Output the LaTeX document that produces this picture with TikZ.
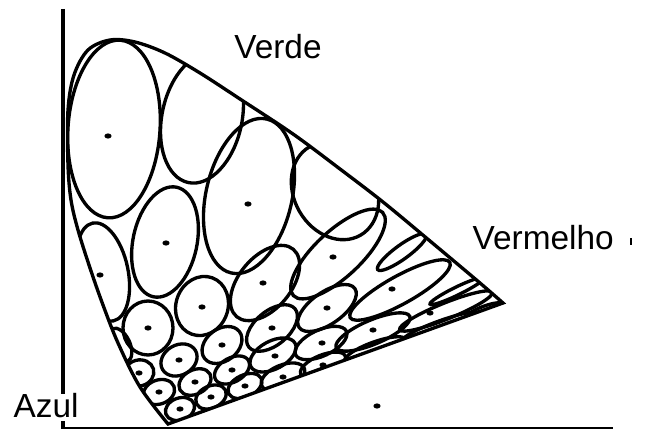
\documentclass[tikz,border=0pt]{standalone}
\usepackage{fontspec}
\setmainfont{Liberation Sans}

\def\gamut{plot[smooth, tension=0.55] coordinates {
    (503,303) (480,283) (430,241) (383,202) (340,169) (293,134) (240,99) (200,73)
    (165,53) (135,42) (110,40) (88,50) (74,75) (68,110) (68,165) (71,200) (78,230)
    (90,268) (103,305) (118,343) (140,387) (168,424)} -- cycle}

\begin{document}
\begin{tikzpicture}[x=0.02cm, y=-0.02cm, line width=1.9pt,
    label/.style={font=\fontsize{19}{21}\selectfont, inner sep=0pt}]
    \useasboundingbox (0,0) rectangle (653,429);

    % Axes
    \draw[line width=2.6pt] (63,9) -- (63,394);
    \draw[line width=2.6pt] (63,421) -- (63,429);
    \draw[line width=1.4pt] (63,428) -- (613,428);

    % Ellipses (clipped by the gamut)
    \begin{scope}
        \clip \gamut;
        \foreach \cx/\cy/\ra/\rb/\ang in {
            114/129/46/89/-4, 202/118/40/66/-12,
            103/272/25/50/12, 165/242/32/56/-12, 249/196/43/79/-13, 335/191/41/51/30,
            148/328/25/27/0, 202/306/26/30/-20, 265/283/44/26/50, 338/254/61/23/43, 402/252/30/7/36,
            120/345/10/18/25,
            139/373/15/13/15, 179/360/19/15/30, 222/345/22/16/38, 272/328/30/17/40, 327/308/34/16/35, 400/290/57/14/29, 457/291/30/4/26,
            159/392/16/12/20, 195/382/17/12/28, 232/370/19/12/30, 273/355/25/14/28, 321/343/28/13/25, 373/332/40/12/23, 446/311/50/8/22,
            180/409/15/11/20, 211/397/16/11/25, 245/386/18/11/25, 283/377/23/12/22, 323/365/24/10/22, 375/350/32/8/20, 440/327/40/6/20, 485/310/18/4/20}
            \draw[rotate around={\ang:(\cx,\cy)}] (\cx,\cy) ellipse [x radius=\ra, y radius=\rb];
    \end{scope}
    \draw \gamut;

    % Centre dots
    \foreach \x/\y in {108/136, 248/204, 166/243, 100/275, 263/283, 202/307, 148/328, 333/257,
        327/308, 272/328, 222/345, 179/360, 139/373, 392/289, 322/343, 275/356, 232/370, 195/382,
        159/392, 430/313, 373/330, 323/365, 283/377, 245/386, 211/397, 180/409, 377/406}
        \fill (\x,\y) ellipse [x radius=3.6, y radius=2.6];

    % Labels
    \node[label] (verde) at (278,47) {Verde};
    \node[label, anchor=base west] (vermelho) at (471,250) {Vermelho};
    \node[label, anchor=base west] (azul) at (12,417) {Azul};
    \draw[line width=1pt] (631,238) -- (631,245);
\end{tikzpicture}
\end{document}
